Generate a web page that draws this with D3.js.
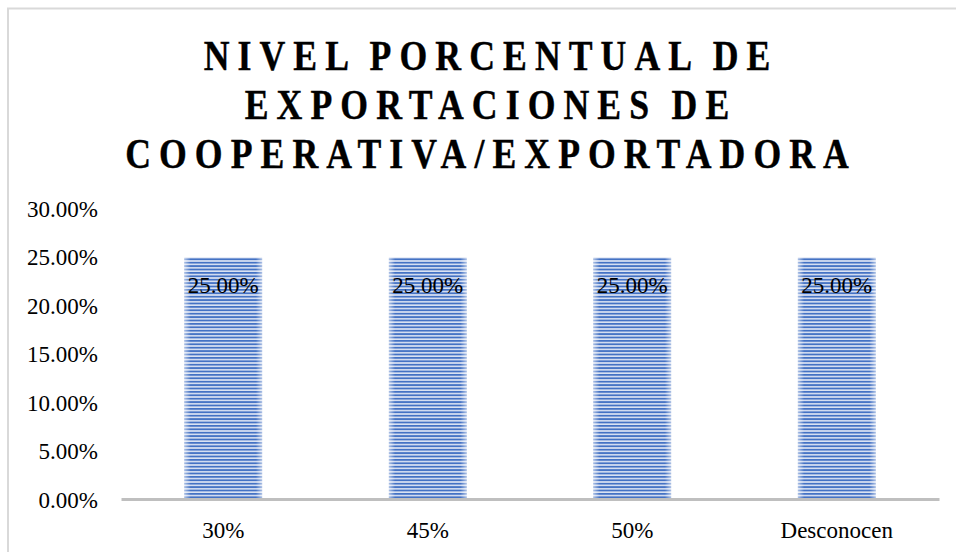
<!DOCTYPE html>
<html><head><meta charset="utf-8">
<script src="https://cdn.jsdelivr.net/npm/d3@7"></script>
<style>body{margin:0;background:#fff}svg{display:block}</style>
</head><body>
<svg id="c" width="956" height="552"></svg>
<script>
const titleLines = ["NIVEL PORCENTUAL DE", "EXPORTACIONES DE", "COOPERATIVA/EXPORTADORA"];
const categories = ["30%", "45%", "50%", "Desconocen"];
const values = [0.25, 0.25, 0.25, 0.25];
const yTicks = [0, 0.05, 0.10, 0.15, 0.20, 0.25, 0.30];

const svg = d3.select("#c");
const font = "'Liberation Serif','Times New Roman',serif";
const defs = svg.append("defs");
const pat = defs.append("pattern").attr("id","stripes").attr("patternUnits","userSpaceOnUse")
  .attr("width",10).attr("height",3.4).attr("y",0);
pat.append("rect").attr("width",10).attr("height",3.4).attr("fill","#dbe3f3");
pat.append("rect").attr("width",10).attr("height",1.8).attr("fill","#4472c4");
const g = defs.append("linearGradient").attr("id","edge").attr("x1","0").attr("x2","1").attr("y1","0").attr("y2","0");
[[0,0.55],[0.08,0],[0.92,0],[1,0.55]].forEach(([o,a])=>g.append("stop").attr("offset",o).attr("stop-color","#fff").attr("stop-opacity",a));

// chart border
svg.append("path").attr("d","M8,560V8.5H960").attr("fill","none").attr("stroke","#d9d9d9").attr("stroke-width",2);

// title (condensed, wide tracking)
const ls = 9.5, sx = 0.85;
svg.append("g").attr("transform",`translate(487,0) scale(${sx},1)`)
  .selectAll("text").data(titleLines).join("text")
  .attr("x", ls/2).attr("y",(d,i)=>70 + i*49)
  .attr("text-anchor","middle").attr("font-family",font).attr("font-weight","bold")
  .attr("font-size",42).attr("letter-spacing",ls).attr("word-spacing",-3).attr("fill","#000")
  .attr("stroke","#000").attr("stroke-width",0.4).text(d=>d);

const x = d3.scaleBand().domain(categories).range([121, 939]).paddingInner(0.62).paddingOuter(0.31);
const y = d3.scaleLinear().domain([0, 0.30]).range([500, 209]);

// y labels
svg.append("g").attr("transform","translate(98,0)")
  .call(d3.axisLeft(y).tickValues(yTicks).tickSize(0).tickPadding(0).tickFormat(d3.format(".2%")))
  .call(a=>a.select(".domain").remove())
  .selectAll("text").attr("font-family",font).attr("font-size",23).attr("fill","#000");

// bars
const bars = svg.append("g");
bars.selectAll("rect.b").data(values).join("rect").attr("class","b")
  .attr("x",(d,i)=>x(categories[i])).attr("width",x.bandwidth())
  .attr("y",d=>y(d)).attr("height",d=>y(0)-y(d)).attr("fill","url(#stripes)");
bars.selectAll("rect.e").data(values).join("rect").attr("class","e")
  .attr("x",(d,i)=>x(categories[i])).attr("width",x.bandwidth())
  .attr("y",d=>y(d)).attr("height",d=>y(0)-y(d)).attr("fill","url(#edge)");

// value labels
svg.append("g").selectAll("text").data(values).join("text")
  .attr("x",(d,i)=>x(categories[i])+x.bandwidth()/2).attr("y",d=>y(d)+35)
  .attr("text-anchor","middle").attr("font-family",font).attr("font-size",23).attr("fill","#000")
  .text(d=>d3.format(".2%")(d));

// x axis
svg.append("g").attr("transform",`translate(0,${y(0)-1})`)
  .call(d3.axisBottom(x).tickSize(0).tickPadding(23))
  .call(a=>a.select(".domain").attr("stroke","#bfbfbf").attr("stroke-width",3))
  .selectAll("text").attr("font-family",font).attr("font-size",23).attr("fill","#000");
</script>
</body></html>
